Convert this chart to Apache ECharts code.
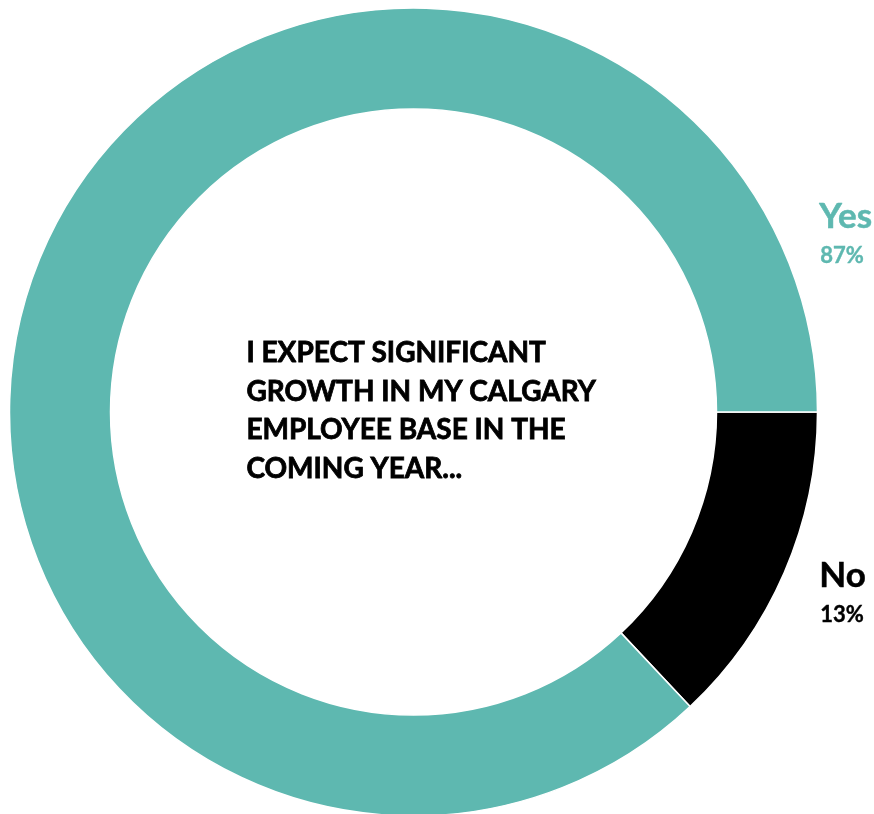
<!DOCTYPE html>
<html>
<head>
<meta charset="utf-8">
<script src="https://cdn.jsdelivr.net/npm/echarts@6/dist/echarts.min.js"></script>
<style>
  html, body { margin: 0; padding: 0; background: #ffffff; }
  #chart { width: 874px; height: 814px; }
</style>
</head>
<body>
<div id="chart"></div>
<script>
// Survey answers, drawn clockwise from 3 o'clock
const categories = ['No', 'Yes'];
const shares = [13, 87];
const sliceColors = ['#000000', '#5EB8B0'];
const question = ['I EXPECT SIGNIFICANT', 'GROWTH IN MY CALGARY', 'EMPLOYEE BASE IN THE', 'COMING YEAR...'];

const FONT = 'Lato, "Noto Sans", sans-serif';
const chart = echarts.init(document.getElementById('chart'), null, { renderer: 'canvas' });

// Answer captions to the right of the ring
const captionY = { Yes: 228, No: 587 };
const captions = [];
categories.forEach((name, i) => {
  captions.push({
    type: 'text', left: 819, top: captionY[name] - 29,
    style: { text: name, font: 'bold 35px ' + FONT, fill: sliceColors[i],
             stroke: sliceColors[i], lineWidth: 0.5 }
  });
  captions.push({
    type: 'text', left: 820, top: captionY[name] + 17,
    style: { text: shares[i] + '%', font: 'bold 22px ' + FONT, fill: sliceColors[i],
             stroke: sliceColors[i], lineWidth: 0.4 }
  });
});

// Question text inside the ring
const questionLines = question.map((line, k) => ({
  type: 'text', left: 246, top: 339 + k * 38.5,
  style: { text: line, font: 'bold 28px ' + FONT, fill: '#000000',
           stroke: '#000000', lineWidth: 0.8 }
}));

chart.setOption({
  animation: false,
  backgroundColor: '#ffffff',
  series: [{
    type: 'pie',
    center: [413.5, 412],
    radius: [303, 404],
    startAngle: 0,
    clockwise: true,
    label: { show: false },
    labelLine: { show: false },
    itemStyle: { borderColor: '#ffffff', borderWidth: 1.5 },
    emphasis: { disabled: true },
    data: categories.map((name, i) => ({
      name: name, value: shares[i], itemStyle: { color: sliceColors[i] }
    }))
  }],
  graphic: captions.concat(questionLines)
});
</script>
</body>
</html>
